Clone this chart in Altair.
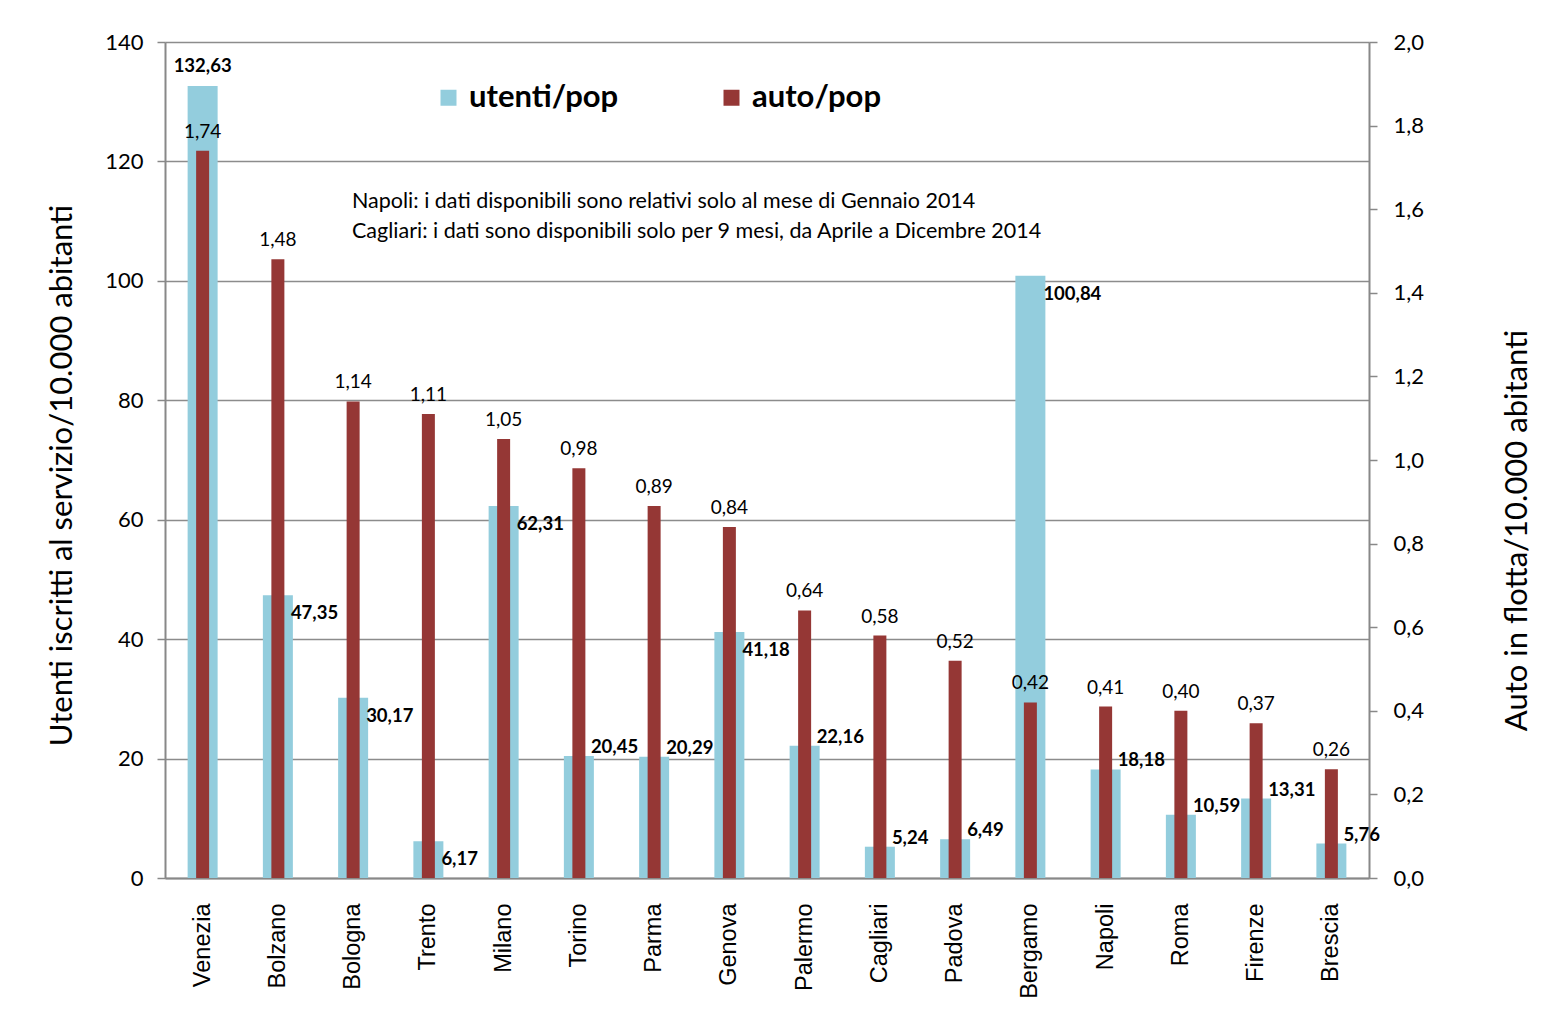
import altair as alt
import pandas as pd

cities = ["Venezia", "Bolzano", "Bologna", "Trento", "Milano", "Torino", "Parma", "Genova",
          "Palermo", "Cagliari", "Padova", "Bergamo", "Napoli", "Roma", "Firenze", "Brescia"]
utenti = [132.63, 47.35, 30.17, 6.17, 62.31, 20.45, 20.29, 41.18,
          22.16, 5.24, 6.49, 100.84, 18.18, 10.59, 13.31, 5.76]
auto = [1.74, 1.48, 1.14, 1.11, 1.05, 0.98, 0.89, 0.84,
        0.64, 0.58, 0.52, 0.42, 0.41, 0.40, 0.37, 0.26]
left_ticks = [0, 20, 40, 60, 80, 100, 120, 140]
right_ticks = [0.0, 0.2, 0.4, 0.6, 0.8, 1.0, 1.2, 1.4, 1.6, 1.8, 2.0]
series_names = ["utenti/pop", "auto/pop"]
note_lines = ["Napoli: i dati disponibili sono relativi solo al mese di Gennaio 2014",
              "Cagliari: i dati sono disponibili solo per 9 mesi, da Aprile a Dicembre 2014"]
# cities whose blue label sits above the bar (Venezia) or lower beside it
label_top = ["Venezia"]
label_low = ["Bolzano", "Bologna", "Trento", "Milano", "Genova", "Bergamo"]

df = pd.DataFrame({"city": cities, "utenti": utenti, "auto": auto})

BLUE = "#93CDDD"
RED = "#953735"
FONT = "Lato"

xenc = alt.X("city:N", sort=cities, title=None,
             scale=alt.Scale(paddingInner=0, paddingOuter=0),
             axis=alt.Axis(labelAngle=-90, labelFont="Liberation Sans", labelFontSize=23.5,
                           labelColor="#000", labelPadding=25, ticks=False,
                           domainColor="#888", domainWidth=2))

color_scale = alt.Scale(domain=series_names, range=[BLUE, RED])
legend = alt.Legend(title=None, orient="none", legendX=268, legendY=40,
                    direction="horizontal", symbolType="square",
                    symbolSize=256, symbolStrokeWidth=0,
                    labelFont=FONT, labelFontSize=31, labelFontWeight="bold",
                    labelColor="#000", labelOffset=5, columnPadding=97,
                    labelLimit=400)

base = alt.Chart(df)

yleft = alt.Scale(domain=[0, 140], nice=False, zero=True)
yright = alt.Scale(domain=[0, 2.0], nice=False, zero=True)

blue = base.transform_calculate(series=f"'{series_names[0]}'").mark_bar(size=30).encode(
    x=xenc,
    y=alt.Y("utenti:Q", scale=yleft,
            title="Utenti iscritti al servizio/10.000 abitanti",
            axis=alt.Axis(values=left_ticks, grid=True, gridColor="#8c8c8c", gridWidth=1.5,
                          domainColor="#888", domainWidth=2, tickColor="#888", tickSize=8,
                          tickWidth=1.5, labelFont=FONT, labelFontSize=22, labelColor="#000",
                          labelPadding=14, titleFont=FONT, titleFontSize=31,
                          titleFontWeight="normal", titleColor="#000",
                          titleAngle=270, titleBaseline="middle", titleAlign="center",
                          titleX=-103, titleY=433)),
    color=alt.Color("series:N", scale=color_scale, legend=legend),
)

lab_expr = "replace(format(datum.utenti, '.2f'), '.', ',')"
top_list = "[" + ",".join(f"'{c}'" for c in label_top) + "]"
low_list = "[" + ",".join(f"'{c}'" for c in label_low) + "]"

blue_lab_low = base.transform_filter(f"indexof({low_list}, datum.city) >= 0").transform_calculate(
    lab=lab_expr
).mark_text(align="left", baseline="middle", dx=13, dy=18, font=FONT, fontSize=18.5,
            fontWeight="bold", color="#000").encode(
    x=xenc, y=alt.Y("utenti:Q", scale=yleft), text="lab:N")

blue_lab_high = base.transform_filter(
    f"indexof({low_list}, datum.city) < 0 && indexof({top_list}, datum.city) < 0"
).transform_calculate(lab=lab_expr).mark_text(
    align="left", baseline="middle", dx=12, dy=-9, font=FONT, fontSize=18.5,
    fontWeight="bold", color="#000").encode(
    x=xenc, y=alt.Y("utenti:Q", scale=yleft), text="lab:N")

blue_lab_top = base.transform_filter(f"indexof({top_list}, datum.city) >= 0").transform_calculate(
    lab=lab_expr
).mark_text(align="center", baseline="middle", dy=-20, font=FONT, fontSize=18.5,
            fontWeight="bold", color="#000").encode(
    x=xenc, y=alt.Y("utenti:Q", scale=yleft), text="lab:N")

note = alt.Chart(pd.DataFrame({"t": [note_lines[0]]})).mark_text(
    align="left", baseline="middle", font=FONT, fontSize=21.5, color="#000"
).encode(x=alt.value(187), y=alt.value(160), text="t:N")
note2 = alt.Chart(pd.DataFrame({"t": [note_lines[1]]})).mark_text(
    align="left", baseline="middle", font=FONT, fontSize=21.5, color="#000"
).encode(x=alt.value(187), y=alt.value(190), text="t:N")

left_layer = alt.layer(blue, blue_lab_low, blue_lab_high, blue_lab_top, note, note2)

red = base.transform_calculate(series=f"'{series_names[1]}'").mark_bar(size=13).encode(
    x=xenc,
    y=alt.Y("auto:Q", scale=yright,
            title="Auto in flotta/10.000 abitanti",
            axis=alt.Axis(orient="right", values=right_ticks, grid=False,
                          domainColor="#888", domainWidth=2, tickColor="#888", tickSize=8,
                          tickWidth=1.5, labelFont=FONT, labelFontSize=22, labelColor="#000",
                          labelPadding=16,
                          labelExpr="replace(format(datum.value, '.1f'), '.', ',')",
                          titleFont=FONT, titleFontSize=31, titleFontWeight="normal",
                          titleColor="#000", titleAngle=270, titleBaseline="middle",
                          titleAlign="center", titleX=148, titleY=488)),
    color=alt.Color("series:N", scale=color_scale, legend=legend),
)

red_lab = base.transform_calculate(
    lab="replace(format(datum.auto, '.2f'), '.', ',')"
).mark_text(align="center", baseline="middle", dy=-19, font=FONT, fontSize=19,
            color="#000").encode(
    x=xenc, y=alt.Y("auto:Q", scale=yright), text="lab:N")

right_layer = alt.layer(red, red_lab)

chart = alt.layer(left_layer, right_layer).resolve_scale(y="independent").properties(
    width=1204, height=836,
    autosize=alt.AutoSizeParams(type="none"),
    padding={"left": 157, "top": 34, "right": 172, "bottom": 130},
).configure_view(stroke=None).configure(background="white")

chart.save("out.html", embed_options={"renderer": "svg", "actions": False})
